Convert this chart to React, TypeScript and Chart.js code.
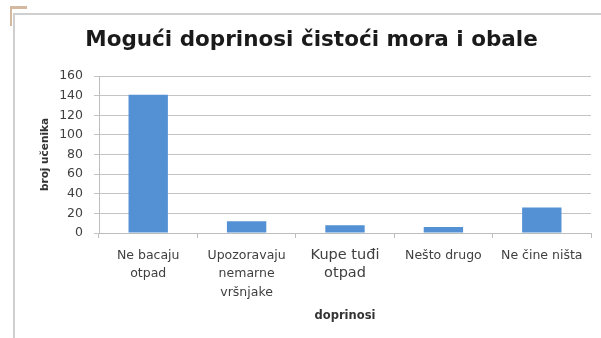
import React, { useEffect, useRef } from "react";
import { Chart, registerables } from "chart.js";

Chart.register(...registerables);

const categories: string[][] = [
  ["Ne bacaju", "otpad"],
  ["Upozoravaju", "nemarne", "vršnjake"],
  ["Kupe tuđi", "otpad"],
  ["Nešto drugo"],
  ["Ne čine ništa"],
];
const values: number[] = [141, 12, 8, 6, 26];
const yTicks: number[] = [0, 20, 40, 60, 80, 100, 120, 140, 160];

const titleText = "Mogući doprinosi čistoći mora i obale";
const yTitle = "broj učenika";
const xTitle = "doprinosi";

const FONT = "'DejaVu Sans', sans-serif";

const framePlugin = {
  id: "frame",
  beforeDraw(chart: any) {
    const ctx = chart.ctx;
    ctx.save();
    ctx.fillStyle = "#ffffff";
    ctx.fillRect(0, 0, chart.width, chart.height);
    ctx.fillStyle = "#d4b8a0";
    ctx.fillRect(10, 6, 17, 3);
    ctx.fillRect(10, 6, 2, 20);
    ctx.strokeStyle = "#cfcfcf";
    ctx.lineWidth = 2;
    ctx.beginPath();
    ctx.moveTo(13, 14);
    ctx.lineTo(chart.width, 14);
    ctx.moveTo(14, 14);
    ctx.lineTo(14, chart.height);
    ctx.stroke();
    ctx.restore();
  },
};

export default function App() {
  const ref = useRef<HTMLCanvasElement | null>(null);
  useEffect(() => {
    if (!ref.current) return;
    const chart = new Chart(ref.current, {
      type: "bar",
      data: {
        labels: categories,
        datasets: [
          {
            data: values,
            backgroundColor: "#5391d4",
            borderWidth: 0,
            barPercentage: 0.5,
            categoryPercentage: 0.8,
          },
        ],
      },
      options: {
        animation: false,
        responsive: false,
        layout: { padding: { left: 32, right: 10, top: 0, bottom: 10 } },
        plugins: {
          legend: { display: false },
          tooltip: { enabled: false },
          title: {
            display: true,
            text: titleText,
            color: "#1a1a1a",
            font: { family: FONT, size: 21.5, weight: "bold", lineHeight: 1.2 },
            padding: { top: 28, bottom: 22.2 },
          },
        },
        scales: {
          x: {
            grid: {
              display: true,
              drawOnChartArea: false,
              drawTicks: true,
              tickLength: 5,
              color: "#bdbdbd",
            },
            border: { display: true, color: "#bdbdbd" },
            ticks: {
              color: "#404040",
              padding: 8,
              maxRotation: 0,
              autoSkip: false,
              font: (ctx: any) => ({
                family: FONT,
                size: ctx.index === 2 ? 14.5 : 12.5,
                lineHeight: ctx.index === 2 ? 1.25 : 1.5,
              }),
            },
            title: {
              display: true,
              text: xTitle,
              color: "#333333",
              font: { family: FONT, size: 11.5, weight: "bold", lineHeight: 1.2 },
              padding: { top: 0, bottom: 5.5 },
            },
            afterFit: (scale: any) => {
              scale.height = 338 - 10 - 233;
            },
          },
          y: {
            min: 0,
            max: 160,
            afterBuildTicks: (scale: any) => {
              scale.ticks = yTicks.map((v) => ({ value: v }));
            },
            grid: {
              color: "#c4c4c4",
              tickLength: 5,
              drawTicks: true,
            },
            border: { display: true, color: "#bdbdbd" },
            ticks: {
              color: "#404040",
              padding: 11,
              autoSkip: false,
              font: { family: FONT, size: 12.5 },
            },
            title: {
              display: true,
              text: yTitle,
              color: "#333333",
              font: { family: FONT, size: 10.5, weight: "bold", lineHeight: 1.2 },
              padding: { top: 6.7, bottom: 0 },
            },
            afterFit: (scale: any) => {
              scale.width = 99 - 32;
            },
          },
        },
      },
      plugins: [framePlugin],
    });
    return () => chart.destroy();
  }, []);
  return (
    <div style={{ position: "absolute", left: 0, top: 0, width: 601, height: 338 }}>
      <canvas ref={ref} width={601} height={338} style={{ display: "block" }} />
    </div>
  );
}
